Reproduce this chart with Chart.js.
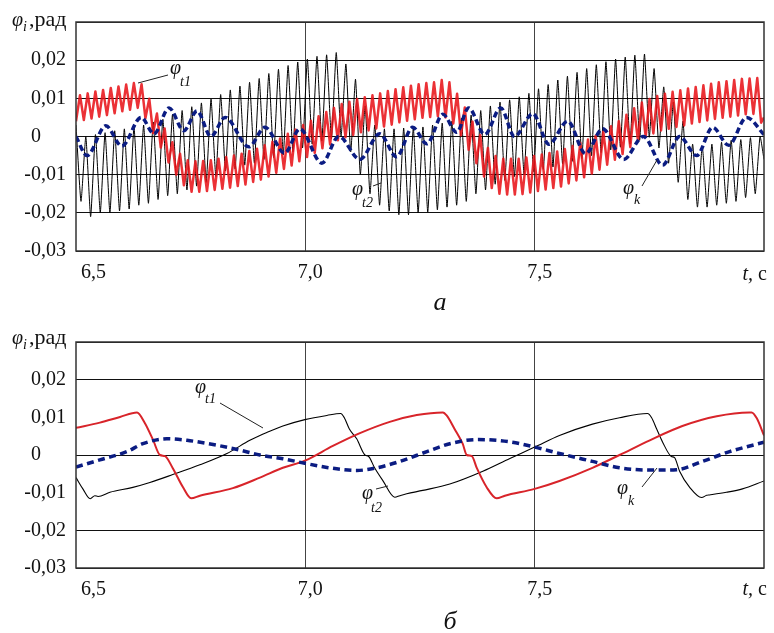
<!DOCTYPE html>
<html><head><meta charset="utf-8">
<script src="https://cdn.jsdelivr.net/npm/chart.js@4.4.1/dist/chart.umd.min.js"></script>
<style>
html,body{margin:0;padding:0;background:#fff;}
#wrap{position:relative;width:774px;height:633px;overflow:hidden;}
canvas{position:absolute;left:0;}
</style></head><body>
<div id="wrap">
<canvas id="c1" width="774" height="320" style="top:0;width:774px;height:320px"></canvas>
<canvas id="c2" width="774" height="313" style="top:320px;width:774px;height:313px"></canvas>
</div>
<script>
// ---------- axes ----------
const xTicks = [6.5, 7.0, 7.5, 8.0];
const xTickLabels = ['6,5', '7,0', '7,5', ''];
const yTicks = [-0.03, -0.02, -0.01, 0, 0.01, 0.02, 0.03];
const yTickLabels = ['-0,03', '-0,02', '-0,01', '0     ', '0,01', '0,02', ''];

// ---------- panel a: phi_t2 (black), extremes per cycle ----------
const blackTopStart = 0.003, blackTopEnd = -0.006;
const blackTopT0 = 6.5109, blackTopHalf = 0.0105;
const blackTopMin = [-0.017,-0.021,-0.020,-0.020,-0.0195,-0.019,-0.018,-0.0175,-0.0165,-0.0155,
 -0.015,-0.014,-0.013,-0.012,-0.0105,-0.009,-0.0085,-0.0075,-0.007,-0.006,
 -0.0055,-0.0048,-0.004,-0.003,-0.002,-0.0012,-0.0006,0.000,-0.004,-0.010,
 -0.015,-0.018,-0.0195,-0.0205,-0.0205,-0.020,-0.0198,-0.0192,-0.0185,-0.018,
 -0.017,-0.015,-0.014,-0.0125,-0.0115,-0.0105,-0.0098,-0.0092,-0.0086,-0.008,
 -0.0072,-0.0065,-0.0058,-0.005,-0.0042,-0.0035,-0.0028,-0.002,-0.001,-0.0002,
 -0.003,-0.007,-0.012,-0.0165,-0.0185,-0.0185,-0.018,-0.0175,-0.017,-0.016,
 -0.015];
const blackTopMax = [0.000,0.0005,0.001,0.0015,0.002,0.0025,0.003,0.0038,0.0045,0.0058,
 0.0068,0.0078,0.0088,0.0098,0.011,0.0122,0.0132,0.0142,0.0152,0.0165,
 0.0176,0.0186,0.0195,0.0203,0.021,0.0214,0.022,0.019,0.015,0.008,
 0.003,0.002,0.002,0.0022,0.0022,0.0025,0.003,0.0035,0.004,0.0048,
 0.0056,0.0068,0.008,0.009,0.0096,0.0104,0.0113,0.0125,0.0136,0.0148,
 0.0158,0.0168,0.0178,0.0188,0.0196,0.0203,0.0208,0.0213,0.0216,0.0178,
 0.013,0.009,0.004,-0.002,-0.0025,-0.002,-0.0015,-0.001,-0.0008,-0.0003,
 0.000];

// ---------- panel a: phi_t1 (red), extremes per cycle ----------
const redTopStart = 0.004, redTopEnd = 0.005;
const redTopT0 = 6.5087, redTopHalf = 0.00839;
const redTopMax = [0.0108,0.0113,0.0118,0.0122,0.0127,0.0131,0.0136,0.0140,0.0137,0.0099,
 0.0060,0.0021,-0.0015,-0.0045,-0.0062,-0.0065,-0.0064,-0.0062,-0.0058,-0.0054,
 -0.0050,-0.0045,-0.0038,-0.0032,-0.0023,-0.0014,-0.0005,0.0007,0.0018,0.0030,
 0.0041,0.0053,0.0064,0.0075,0.0085,0.0091,0.0098,0.0103,0.0108,0.0113,
 0.0119,0.0124,0.0129,0.0133,0.0137,0.0140,0.0142,0.0148,0.0142,0.0112,
 0.0076,0.0039,0.0004,-0.0030,-0.0051,-0.0058,-0.0058,-0.0058,-0.0055,-0.0051,
 -0.0047,-0.0043,-0.0039,-0.0033,-0.0025,-0.0017,-0.0008,0.0002,0.0013,0.0027,
 0.0040,0.0057,0.0074,0.0089,0.0098,0.0106,0.0112,0.0117,0.0121,0.0126,
 0.0130,0.0134,0.0138,0.0142,0.0145,0.0148,0.0151,0.0152,0.0153];
const redTopMin = [0.0043,0.0047,0.0052,0.0056,0.0061,0.0066,0.0070,0.0075,0.0048,0.0009,
 -0.0029,-0.0068,-0.0100,-0.0128,-0.0145,-0.0145,-0.0143,-0.0140,-0.0137,-0.0134,
 -0.0130,-0.0126,-0.0119,-0.0113,-0.0105,-0.0095,-0.0085,-0.0076,-0.0065,-0.0054,
 -0.0043,-0.0031,-0.0021,-0.0010,-0.0002,0.0004,0.0011,0.0016,0.0021,0.0026,
 0.0031,0.0037,0.0041,0.0045,0.0049,0.0051,0.0053,0.0050,0.0034,0.0003,
 -0.0035,-0.0070,-0.0105,-0.0135,-0.0150,-0.0152,-0.0152,-0.0151,-0.0147,-0.0143,
 -0.0139,-0.0135,-0.0131,-0.0123,-0.0115,-0.0107,-0.0097,-0.0087,-0.0074,-0.0061,
 -0.0046,-0.0028,-0.0011,0.0000,0.0008,0.0016,0.0020,0.0025,0.0029,0.0034,
 0.0038,0.0042,0.0046,0.0049,0.0052,0.0055,0.0058,0.0059,0.0036];

// ---------- panel a: phi_k (blue dashed) ----------
const kTopT = [6.500,6.524,6.565,6.600,6.642,6.670,6.703,6.735,6.764,6.794,
 6.825,6.877,6.912,6.955,6.988,7.036,7.073,7.119,7.162,7.199,
 7.234,7.265,7.300,7.330,7.356,7.391,7.426,7.456,7.496,7.531,
 7.572,7.611,7.648,7.694,7.737,7.779,7.816,7.853,7.888,7.923,
 7.962,8.000];
const kTopV = [0.0,-0.005,0.0028,-0.0025,0.005,0.0007,0.0075,0.0015,0.0067,0.0,
 0.005,-0.0027,0.0024,-0.0044,0.002,-0.007,0.0,-0.006,0.0007,-0.0053,
 0.0024,-0.0019,0.0058,0.0011,0.0075,0.0005,0.0075,0.0,0.006,-0.002,
 0.004,-0.0045,0.002,-0.006,0.0,-0.0075,0.0,-0.005,0.0024,-0.0023,
 0.005,0.0005];

// ---------- panel b ----------
const redBotT = [6.5,6.552,6.596,6.633,6.650,6.668,6.683,6.694,6.711,6.733,
 6.751,6.770,6.842,6.901,6.951,6.999,7.060,7.119,7.184,7.243,
 7.300,7.308,7.326,7.343,7.352,7.363,7.374,7.395,7.417,7.435,
 7.500,7.554,7.626,7.685,7.751,7.822,7.897,7.968,7.973,7.984,8.0];
const redBotV = [0.0072,0.0086,0.0101,0.0113,0.0085,0.004,0.0,-0.0003,-0.0035,-0.0085,
 -0.0115,-0.0108,-0.0088,-0.006,-0.0034,-0.0015,0.0024,0.0058,0.0088,0.0106,
 0.0113,0.0105,0.0068,0.003,0.0,-0.0003,-0.0035,-0.0085,-0.0115,-0.0108,
 -0.009,-0.0069,-0.0034,0.0,0.0039,0.0077,0.0103,0.0113,0.0113,0.0098,0.0052];
const blackBotT = [6.5,6.515,6.531,6.541,6.548,6.574,6.624,6.661,6.711,6.770,
 6.829,6.879,6.901,6.916,6.951,6.999,7.047,7.077,7.085,7.096,
 7.112,7.130,7.138,7.151,7.169,7.195,7.206,7.221,7.256,7.315,
 7.387,7.446,7.500,7.554,7.626,7.685,7.746,7.755,7.766,7.779,
 7.798,7.805,7.816,7.838,7.864,7.875,7.881,7.918,7.953,8.0];
const blackBotV = [-0.006,-0.009,-0.0116,-0.0108,-0.011,-0.0099,-0.0086,-0.0073,-0.0052,-0.0026,
 0.0004,0.0039,0.0052,0.006,0.0077,0.0094,0.0105,0.011,0.0099,0.0069,
 0.0043,0.0,-0.0004,-0.0034,-0.0068,-0.0112,-0.0108,-0.0103,-0.0094,-0.0077,
 -0.0043,-0.0009,0.0021,0.0052,0.0082,0.0099,0.011,0.0099,0.0069,0.0034,
 -0.0004,-0.0007,-0.0043,-0.0086,-0.0113,-0.0107,-0.0106,-0.0099,-0.009,-0.0069];
const kBotT = [6.5,6.552,6.611,6.646,6.698,6.742,6.807,6.857,6.901,6.951,
 6.999,7.047,7.112,7.156,7.206,7.265,7.315,7.374,7.446,7.500,
 7.554,7.626,7.685,7.757,7.809,7.866,7.925,8.0];
const kBotV = [-0.0032,-0.0013,0.0009,0.003,0.0043,0.0039,0.0026,0.0013,0.0,-0.001,
 -0.0022,-0.0033,-0.0041,-0.0034,-0.0017,0.0009,0.003,0.0041,0.0035,0.0021,
 0.0004,-0.0017,-0.0034,-0.004,-0.0039,-0.0017,0.0009,0.0034];

// ---------- helpers ----------
const SERIF = '"Liberation Serif", "Times New Roman", serif';
function zigzag(t0, half, startVal, first, second, endVal) {
  const pts = [{x: 6.5, y: startVal}];
  for (let i = 0; i < first.length; i++) {
    pts.push({x: t0 + 2 * i * half, y: first[i]});
    if (i < second.length) pts.push({x: t0 + (2 * i + 1) * half, y: second[i]});
  }
  pts.push({x: 8.0, y: endVal});
  return pts;
}
function pairs(ts, vs) { return ts.map((t, i) => ({x: t, y: vs[i]})); }

function makeScales(xHeight, hideMinor) {
  return {
    x: {
      type: 'linear', min: 6.5, max: 8.0,
      afterBuildTicks: s => { s.ticks = xTicks.map(v => ({value: v})); },
      afterFit: s => { s.height = xHeight; },
      ticks: { callback: (v, i) => xTickLabels[i], align: 'inner', labelOffset: 5, padding: 10,
               color: '#111', font: {family: SERIF, size: 20}, maxRotation: 0, autoSkip: false },
      grid: { drawTicks: false, lineWidth: 1,
              color: c => (c.tick && (Math.abs(c.tick.value - 7) < 1e-6 || Math.abs(c.tick.value - 7.5) < 1e-6)) ? '#444' : 'rgba(0,0,0,0)' },
      border: { display: false }
    },
    y: {
      min: -0.03, max: 0.03,
      afterBuildTicks: s => { s.ticks = yTicks.map(v => ({value: v})); },
      afterFit: s => { s.width = 76; },
      ticks: { callback: (v, i) => yTickLabels[i], padding: 10, color: '#111',
               font: {family: SERIF, size: 20}, autoSkip: false },
      grid: { drawTicks: false, lineWidth: 1,
              color: c => {
                if (!c.tick) return '#000';
                const a = Math.abs(c.tick.value);
                if (hideMinor && Math.abs(a - 0.01) < 1e-6) return 'rgba(0,0,0,0)';
                return '#111';
              } },
      border: { display: false }
    }
  };
}

function extrasPlugin(spec) {
  return {
    id: 'extras' + spec.id,
    afterDraw(chart) {
      const ctx = chart.ctx, a = chart.chartArea;
      ctx.save();
      ctx.strokeStyle = '#333'; ctx.lineWidth = 1.5;
      ctx.strokeRect(a.left, a.top, a.right - a.left, a.bottom - a.top);
      ctx.fillStyle = '#111'; ctx.textBaseline = 'alphabetic'; ctx.textAlign = 'left';
      ctx.font = 'italic 20px ' + SERIF;
      ctx.fillText('φ', 12, spec.titleY);
      ctx.font = 'italic 14px ' + SERIF;
      ctx.fillText('i', 23, spec.titleY + 5);
      ctx.font = '22px ' + SERIF;
      ctx.fillText(',рад', 29, spec.titleY);
      ctx.font = 'italic 20px ' + SERIF;
      const w1 = ctx.measureText('t,').width;
      ctx.font = '20px ' + SERIF;
      const w2 = ctx.measureText(' с').width;
      const xs = 767 - w1 - w2;
      ctx.font = 'italic 20px ' + SERIF;
      ctx.fillText('t,', xs, spec.tY);
      ctx.font = '20px ' + SERIF;
      ctx.fillText(' с', xs + w1, spec.tY);
      ctx.strokeStyle = '#222'; ctx.lineWidth = 1;
      spec.leaders.forEach(l => { ctx.beginPath(); ctx.moveTo(l[0], l[1]); ctx.lineTo(l[2], l[3]); ctx.stroke(); });
      spec.labels.forEach(l => {
        ctx.font = 'italic 20px ' + SERIF;
        ctx.fillText('φ', l.x, l.y);
        ctx.font = 'italic 14px ' + SERIF;
        ctx.fillText(l.sub, l.sx, l.sy);
      });
      ctx.font = 'italic 26px ' + SERIF; ctx.textAlign = 'center';
      ctx.fillText(spec.caption, spec.capX, spec.capY);
      ctx.restore();
    }
  };
}

function makeChart(id, datasets, padTop, xHeight, hideMinor, spec) {
  return new Chart(document.getElementById(id), {
    type: 'line',
    data: { datasets },
    options: {
      responsive: false, animation: false, events: [],
      parsing: false, normalized: true,
      layout: { padding: { top: padTop, right: 10, left: 0, bottom: 0 } },
      elements: { point: { radius: 0, hitRadius: 0 }, line: { cubicInterpolationMode: 'monotone', fill: false } },
      plugins: { legend: { display: false }, tooltip: { enabled: false } },
      scales: makeScales(xHeight, hideMinor)
    },
    plugins: [extrasPlugin(spec)]
  });
}

// panel a
makeChart('c1', [
  { label: 'φk', data: pairs(kTopT, kTopV), borderColor: '#0b1c82', borderWidth: 3.5, borderDash: [6, 3.5], order: 1 },
  { label: 'φt1', data: zigzag(redTopT0, redTopHalf, redTopStart, redTopMax, redTopMin, redTopEnd), borderColor: 'rgba(232,20,26,0.88)', borderWidth: 2.5, cubicInterpolationMode: 'default', tension: 0, borderJoinStyle: 'round', order: 2 },
  { label: 'φt2', data: zigzag(blackTopT0, blackTopHalf, blackTopStart, blackTopMin, blackTopMax, blackTopEnd), borderColor: '#000', borderWidth: 1, cubicInterpolationMode: 'default', tension: 0.15, order: 3 }
], 18, 69, false, {
  id: 1, titleY: 26, tY: 280,
  leaders: [[138, 83, 168, 75], [373, 186, 381, 183], [642, 186, 657, 160]],
  labels: [ {x: 170, y: 74, sub: 't1', sx: 180, sy: 86},
            {x: 352, y: 195, sub: 't2', sx: 362, sy: 207},
            {x: 623, y: 194, sub: 'k', sx: 634, sy: 204} ],
  caption: 'а', capX: 440, capY: 310
});

// panel b
makeChart('c2', [
  { label: 'φk', data: pairs(kBotT, kBotV), borderColor: '#0b1c82', borderWidth: 3.5, borderDash: [7, 4.5], order: 1 },
  { label: 'φt1', data: pairs(redBotT, redBotV), borderColor: '#d8242a', borderWidth: 2, order: 2 },
  { label: 'φt2', data: pairs(blackBotT, blackBotV), borderColor: '#000', borderWidth: 1.1, order: 3 }
], 12, 65, true, {
  id: 2, titleY: 24, tY: 275,
  leaders: [[220, 83, 263, 108], [376, 169, 388, 166], [642, 167, 657, 148]],
  labels: [ {x: 195, y: 73, sub: 't1', sx: 205, sy: 83},
            {x: 362, y: 179, sub: 't2', sx: 371, sy: 192},
            {x: 617, y: 174, sub: 'k', sx: 628, sy: 185} ],
  caption: 'б', capX: 450, capY: 309
});
</script>
</body></html>
